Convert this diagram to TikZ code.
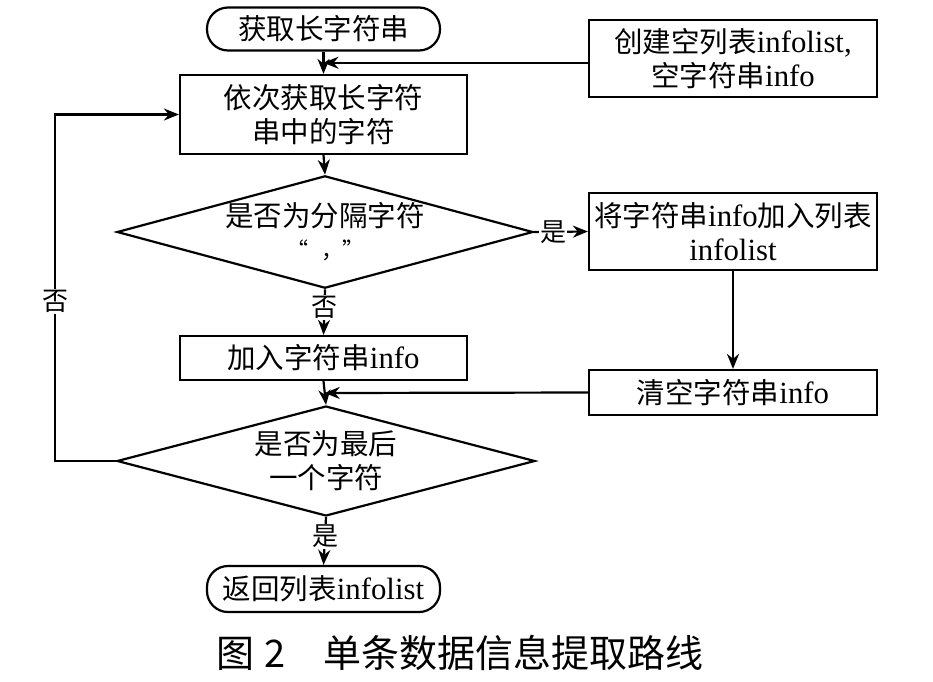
\documentclass[tikz,border=0pt]{standalone}
\usepackage{fontspec}
\setmainfont[Scale=1.08]{Liberation Serif}
\newfontfamily\cjk{Noto Sans CJK SC}
\newcommand\zhs[1]{{\cjk #1}}
\usetikzlibrary{shapes.geometric,arrows.meta,calc}
\begin{document}
\begin{tikzpicture}[x=1pt,y=-1pt,
  base/.style={draw, line width=2.2pt, inner sep=0pt, align=center, font=\fontsize{28.5}{34}\selectfont},
  proc/.style={base, rectangle},
  term/.style={base, rectangle, rounded corners=21pt},
  dec/.style={base, diamond, shape aspect=3.7},
  conn/.style={line width=2.2pt, -{Stealth[length=15pt,width=12pt]}},
  lbl/.style={fill=white, inner sep=1pt, font=\fontsize{26}{30}\selectfont}]
\useasboundingbox (0,0) rectangle (933,681);
\node[term, minimum width=233pt, minimum height=43pt] (start) at (323.5,29) {\zhs{获取长字符串}};
\node[proc, minimum width=287pt, minimum height=79pt] (b1) at (323.5,114.5) {\zhs{依次获取长字符}\\\zhs{串中的字符}};
\node[proc, minimum width=288pt, minimum height=77pt] (init) at (733,58.5) {\zhs{创建空列表}infolist,\\\zhs{空字符串}info};
\node[dec, minimum width=416pt, minimum height=112pt] (d1) at (325,232) {\zhs{是否为分隔字符}\\[-2pt]{\cjk\fontsize{22}{22}\selectfont “\hspace{14pt}，\hspace{-2pt}”}};
\node[proc, minimum width=288pt, minimum height=77pt] (b2) at (733,231.5) {\zhs{将字符串}info\zhs{加入列表}\\infolist};
\node[proc, minimum width=287pt, minimum height=44pt] (b3) at (323.5,358) {\zhs{加入字符串}info};
\node[proc, minimum width=288pt, minimum height=45pt] (b4) at (733,392.5) {\zhs{清空字符串}info};
\node[dec, minimum width=418pt, minimum height=110pt] (d2) at (326,461) {\zhs{是否为最后}\\\zhs{一个字符}};
\node[term, minimum width=233pt, minimum height=46pt] (end) at (323.5,589) {\zhs{返回列表}infolist};
\node[font=\cjk\fontsize{38}{38}\selectfont] (cap) at (460,653) {图\hspace{0.25em}2\hspace{1em}单条数据信息提取路线};
% connectors
\coordinate (m1) at ($(start.south)!0.5!(b1.north)$);
\coordinate (m2) at ($(b3.south)!0.5!(d2.north)$);
\draw[conn] (start.south) -- (b1.north);
\draw[conn] (init.west |- m1) -- (m1);
\draw[conn] (b1.south) -- (d1.north);
\draw[conn] (d1.east) -- node[lbl, pos=0.36] {\zhs{是}} (b2.west);
\draw[conn] (d1.south) -- node[lbl, pos=0.4] {\zhs{否}} (b3.north);
\draw[conn] (b2.south) -- (b4.north);
\draw[conn] (b3.south) -- (d2.north);
\draw[conn] (b4.west) -- (m2);
\draw[conn] (d2.south) -- node[lbl, pos=0.4] {\zhs{是}} (end.north);
\coordinate (lp) at (55,461);
\draw[conn] (d2.west) -- (lp) -- node[lbl, pos=0.46] {\zhs{否}} (lp |- b1.west) -- (b1.west);
\end{tikzpicture}
\end{document}
